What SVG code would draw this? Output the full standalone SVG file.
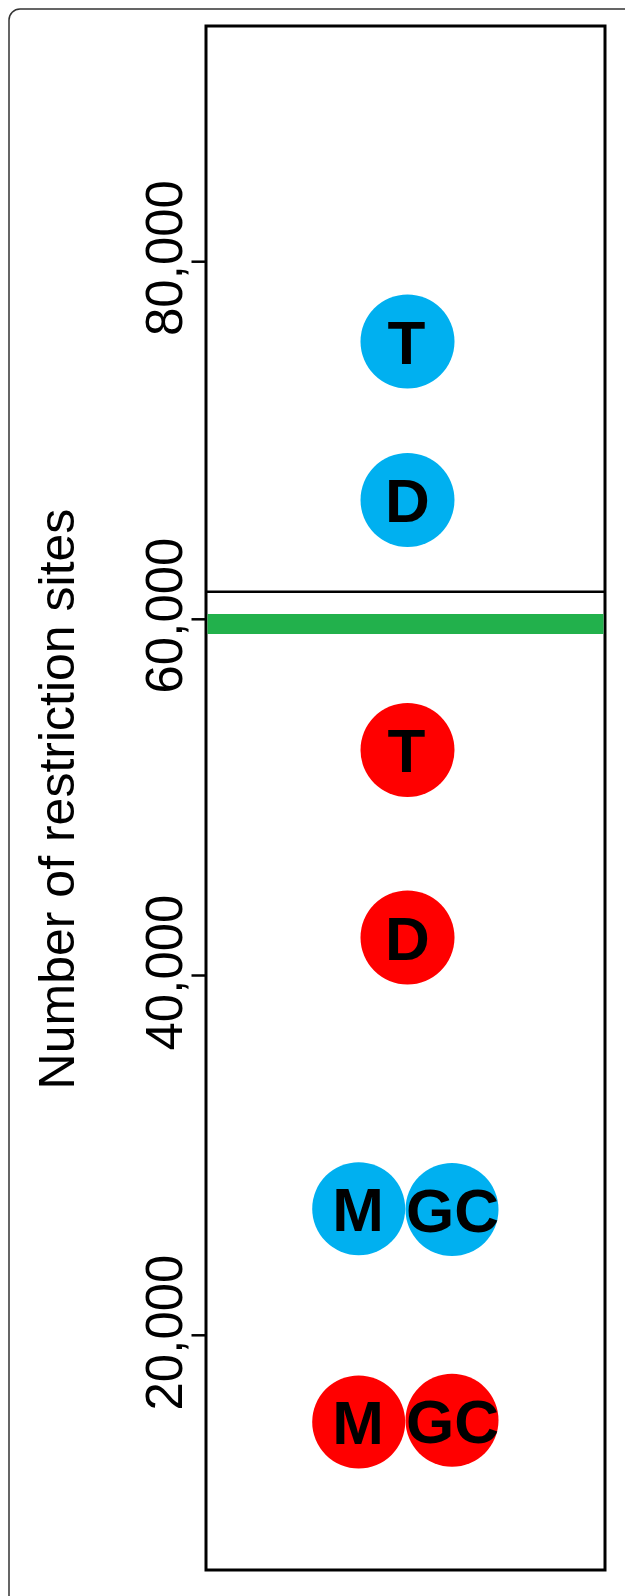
<svg xmlns="http://www.w3.org/2000/svg" width="625" height="1596" viewBox="0 0 625 1596">
<style>
.ax{fill:none;stroke:#000;stroke-width:3}
.tick{stroke:#000;stroke-width:2.5}
.lbl{font-family:"Liberation Sans",Arial,sans-serif;font-size:51px;fill:#000;text-anchor:middle}
.title{font-size:50px}
.blue{fill:#00B0F0}
.red{fill:#FF0000}
.let{font-family:"Liberation Sans",Arial,sans-serif;font-weight:bold;font-size:62px;fill:#000;text-anchor:middle}
</style>
<rect width="625" height="1596" fill="#fff"/>
<rect x="9" y="9" width="700" height="1700" rx="11" fill="none" stroke="#333" stroke-width="1.5"/>
<g id="plot">
<rect x="206" y="26" width="399" height="1544" class="ax"/>
<line x1="206" y1="591.7" x2="605" y2="591.7" stroke="#000" stroke-width="2.5"/>
<rect x="207.5" y="614" width="396" height="20" fill="#22B14C"/>
</g>
<g id="axis">
<line class="tick" x1="191.5" y1="261.7" x2="206" y2="261.7"/>
<line class="tick" x1="191.5" y1="619.3" x2="206" y2="619.3"/>
<line class="tick" x1="191.5" y1="975.5" x2="206" y2="975.5"/>
<line class="tick" x1="191.5" y1="1335.3" x2="206" y2="1335.3"/>
<text class="lbl" transform="translate(181.5,258) rotate(-90)">80,000</text>
<text class="lbl" transform="translate(181.5,615.5) rotate(-90)">60,000</text>
<text class="lbl" transform="translate(181.5,972.5) rotate(-90)">40,000</text>
<text class="lbl" transform="translate(181.5,1332.5) rotate(-90)">20,000</text>
<text class="lbl title" transform="translate(73.5,799) rotate(-90)">Number of restriction sites</text>
</g>
<g id="blue-T"><circle class="blue" cx="407.5" cy="341.5" r="47"/><text class="let" x="406.5" y="363.5">T</text></g>
<g id="blue-D"><circle class="blue" cx="407.5" cy="500" r="47"/><text class="let" x="407.5" y="522">D</text></g>
<g id="red-T"><circle class="red" cx="407.5" cy="750" r="47"/><text class="let" x="406.5" y="772">T</text></g>
<g id="red-D"><circle class="red" cx="407.5" cy="937.5" r="47"/><text class="let" x="407.5" y="959.5">D</text></g>
<g id="blue-M"><circle class="blue" cx="358.7" cy="1208.7" r="46.5"/><text class="let" x="358" y="1230.5">M</text></g>
<g id="blue-GC"><circle class="blue" cx="452" cy="1209.5" r="46.5"/><text class="let" x="452.5" y="1231.5">GC</text></g>
<g id="red-M"><circle class="red" cx="358.7" cy="1422" r="46.5"/><text class="let" x="358" y="1444">M</text></g>
<g id="red-GC"><circle class="red" cx="452" cy="1420.3" r="46.5"/><text class="let" x="452.5" y="1442.5">GC</text></g>
<g id="connectors"/>
</svg>
